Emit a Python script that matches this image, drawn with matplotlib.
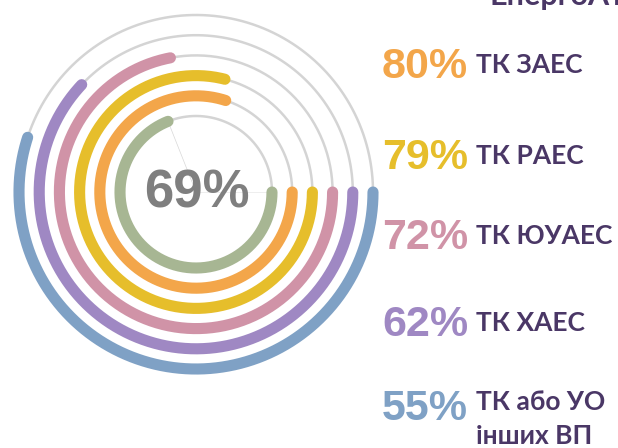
import numpy as np
import matplotlib
matplotlib.use("Agg")
import matplotlib.pyplot as plt

# ring data, inner to outer
ring_values = [69, 80, 79, 72, 62, 55]
ring_colors = ["#A7B693", "#F3A64A", "#E6BE2B", "#D093A7", "#9F88C3", "#7FA1C5"]

# legend rows (top to bottom)
row_values = [80, 79, 72, 62, 55]
row_labels = ["ТК ЗАЕС", "ТК РАЕС", "ТК ЮУАЕС", "ТК ХАЕС", "ТК або УО\nінших ВП"]
row_colors = ["#F3A64A", "#E6BE2B", "#D093A7", "#9F88C3", "#7FA1C5"]
total_value = 69
title = "ЕнергоАтом"

W, H = 618, 448
fig = plt.figure(figsize=(W / 100, H / 100), dpi=100)
ax = fig.add_axes([0, 0, 1, 1])
ax.set_xlim(0, W)
ax.set_ylim(H, 0)
ax.axis("off")

cx, cy = 196, 192
r0, dr = 76, 20.2

theta_full = np.linspace(0, 2 * np.pi, 400)
for i, (v, c) in enumerate(zip(ring_values, ring_colors)):
    r = r0 + i * dr
    # gray track
    ax.plot(cx + r * np.cos(theta_full), cy + r * np.sin(theta_full),
            color="#D4D4D4", lw=1.8, zorder=1)
    # value arc, clockwise from 3 o'clock
    th = np.linspace(0, 2 * np.pi * v / 100, 300)
    ax.plot(cx + r * np.cos(th), cy + r * np.sin(th), color=c, lw=8,
            solid_capstyle="round", zorder=2)

# faint guide lines of the inner ring
r = r0
end = 2 * np.pi * ring_values[0] / 100
ax.plot([cx, cx + r * np.cos(end)], [cy, cy + r * np.sin(end)],
        color="#D8D8D8", lw=0.5, zorder=0)
ax.plot([cx, cx + r], [cy, cy], color="#E8E8E8", lw=0.5, zorder=0)

ax.text(cx + 1, cy + 2, f"{total_value}%", ha="center", va="center",
        fontsize=38, fontweight="bold", color="#7F7F7F",
        family="Liberation Sans", zorder=3)

# right side labels
row_y = [67, 158, 238, 325, 409]
for y, v, lab, c in zip(row_y, row_values, row_labels, row_colors):
    ax.text(468, y, f"{v}%", ha="right", va="center", fontsize=31,
            fontweight="bold", color=c, family="Liberation Sans")
    if "\n" in lab:
        ax.text(476, y + 10, lab, ha="left", va="center", fontsize=19,
                fontweight="bold", color="#4A3766", family="Lato",
                linespacing=1.45)
    else:
        ax.text(476, y - 2, lab, ha="left", va="center", fontsize=19,
                fontweight="bold", color="#4A3766", family="Lato")

# title only partly visible at the top edge, as in the source
ax.text(490, 5, title, ha="left", va="baseline", fontsize=22,
        fontweight="bold", color="#4A3766", family="Lato")

fig.savefig("out.png", dpi=100)
